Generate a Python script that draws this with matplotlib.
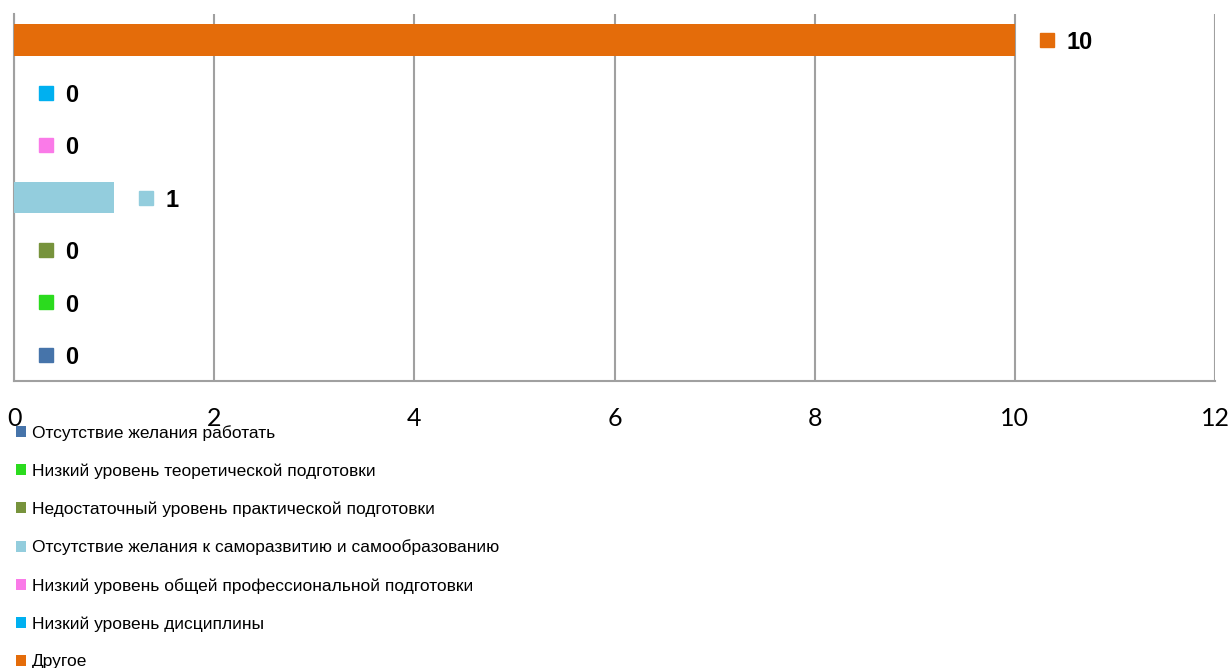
"""Horizontal bar chart: reasons (Russian labels), values with square keys."""

import matplotlib
matplotlib.use("Agg")
import matplotlib.pyplot as plt
from matplotlib.patches import Patch
from matplotlib.transforms import offset_copy

# data, bottom bar first
categories = [
    "Отсутствие желания работать",
    "Низкий уровень теоретической подготовки",
    "Недостаточный уровень практической подготовки",
    "Отсутствие желания к саморазвитию и самообразованию",
    "Низкий уровень общей профессиональной подготовки",
    "Низкий уровень дисциплины",
    "Другое",
]
values = [0, 0, 0, 1, 0, 0, 10]
colors = ["#4674AA", "#2BDB1E", "#77933C", "#93CDDD", "#FA7AE8", "#00B0F0", "#E46C0A"]
xticks = [0, 2, 4, 6, 8, 10, 12]

sans = ["Liberation Sans", "DejaVu Sans"]

fig = plt.figure(figsize=(12.3, 6.68), dpi=100)
ax = fig.add_axes([14 / 1230, 287 / 668, 1201 / 1230, 367 / 668])

pos = list(range(len(values)))
ax.barh(pos, values, height=0.6, color=colors, zorder=3)

ax.set_xlim(0, 12)
ax.set_ylim(-0.5, 6.5)
ax.set_xticks(xticks)
ax.set_xticklabels([str(t) for t in xticks], fontsize=18, family=["Lato", "DejaVu Sans"])
ax.tick_params(axis="x", length=0, pad=19)
ax.set_yticks([])
ax.grid(axis="x", color="#A0A0A0", linewidth=1.5, zorder=1)
for side in ["top", "right"]:
    ax.spines[side].set_visible(False)
for side in ["left", "bottom"]:
    ax.spines[side].set_color("#A0A0A0")
    ax.spines[side].set_linewidth(1.5)

# data labels: colored square key + bold value
key_tr = offset_copy(ax.transData, fig=fig, x=32, y=0, units="dots")
for p, v, c in zip(pos, values, colors):
    ax.plot([v], [p], marker="s", markersize=10, color=c, transform=key_tr,
            clip_on=False, zorder=4)
    ax.annotate(str(v), xy=(v, p), xytext=(37, -2), textcoords="offset points",
                va="center", ha="left", fontsize=17, fontweight="bold",
                family=sans, zorder=4)

handles = [Patch(facecolor=c, edgecolor="none") for c in colors]
fig.legend(handles, categories, loc="upper left", bbox_to_anchor=(16 / 1230, 1 - 425 / 668),
           frameon=False, prop={"family": sans, "size": 12.5},
           handlelength=0.58, handleheight=0.58, handletextpad=0.35,
           labelspacing=1.3, borderaxespad=0, borderpad=0)

fig.savefig("out.png", dpi=100)
